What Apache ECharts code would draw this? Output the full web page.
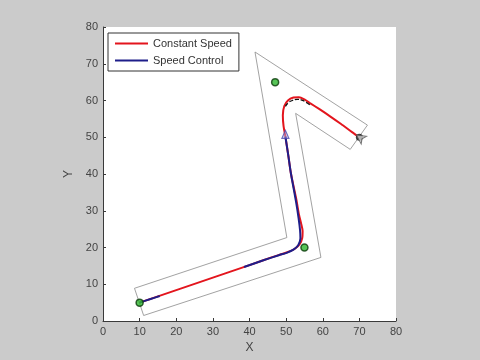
<!DOCTYPE html>
<html><head><meta charset="utf-8">
<script src="https://cdn.jsdelivr.net/npm/echarts@6/dist/echarts.min.js"></script>
<style>html,body{margin:0;padding:0;background:#cbcbcb}#c{width:480px;height:360px}</style>
</head><body><div id="c"></div>
<script>
// Corridor outline (closed polygon)
const corridor = [[8.6,8.9],[50.2,22.7],[41.5,73.2],[72.2,53.3],[67.5,46.7],[52.6,56.5],[59.5,17.3],[11.1,1.5],[8.6,8.9]];
// Constant speed trajectory (red)
const constantSpeed = [[10,5],[20,8.4],[30,11.8],[40,15.2],[46,17.3],[50.3,18.7],[52.3,19.6],[53.7,20.9],[54.4,22.6],[54.5,24.5],[54.1,26.5],[53.5,29],[52.8,33],[51.3,40.2],[50.6,45],[49.8,50.2],[49.3,53],[49.1,56],[49.5,58.5],[50.5,60],[52,60.8],[53.5,60.9],[55,60.3],[56.5,59.3],[59,57.7],[62,55.7],[65,53.6],[68,51.4],[70,50]];
// Speed control trajectory (blue), gap where red shows on top
const speedControl = [[10,5],[13,6],[15.5,6.8],null,[38.5,14.7],[44,16.6],[48,17.9],[50.3,18.6],[52,19.4],[53.3,20.6],[53.9,22.5],[53.8,24.7],[53.4,28],[52.7,32.5],[51.3,40.2],[50.6,45],[49.8,50.2]];
// Reference (dashed black) arc near the upper turn
const referenceArc = [[49.8,58.4],[50.6,59.4],[51.7,60],[53,60.3],[54.3,60.1],[55.5,59.5],[56.5,58.8]];
// Waypoints (green)
const waypoints = [[10,5],[55,20],[47,65]];
// Goal point (black)
const goal = [[70,50]];
// Vehicle marker (triangle) at end of blue trajectory
const vehicle = [[49.8,50.8]];
// Axis ticks
const xTicks = [0,10,20,30,40,50,60,70,80];
const yTicks = [0,10,20,30,40,50,60,70,80];

const chart = echarts.init(document.getElementById('c'));
const axisCommon = {
  min: 0, max: 80, interval: 10,
  axisLine: {show: true, lineStyle: {color: '#3a3a3a', width: 1}},
  axisTick: {show: true, inside: true, length: 3, lineStyle: {color: '#3a3a3a'}},
  splitLine: {show: false},
  axisLabel: {color: '#444444', fontSize: 11, fontFamily: 'Liberation Sans, Arial, sans-serif'},
  nameTextStyle: {color: '#444444', fontSize: 12, fontFamily: 'Liberation Sans, Arial, sans-serif'},
  nameLocation: 'middle'
};
chart.setOption({
  animation: false,
  backgroundColor: '#cbcbcb',
  grid: {left: 103, right: 84, top: 27, bottom: 39, show: true, backgroundColor: '#ffffff', borderWidth: 0},
  xAxis: Object.assign({}, axisCommon, {type: 'value', name: 'X', nameGap: 18,
    axisLabel: Object.assign({}, axisCommon.axisLabel, {margin: 5, formatter: v => xTicks.includes(v) ? String(v) : ''})}),
  yAxis: Object.assign({}, axisCommon, {type: 'value', name: 'Y', nameGap: 26, nameRotate: 90,
    axisLabel: Object.assign({}, axisCommon.axisLabel, {margin: 5, formatter: v => yTicks.includes(v) ? String(v) : ''})}),
  legend: {
    left: 108, top: 33, orient: 'vertical',
    data: [{name: 'Constant Speed'}, {name: 'Speed Control'}],
    icon: 'rect', itemWidth: 33, itemHeight: 2, itemGap: 6,
    backgroundColor: '#ffffff', borderColor: '#333333', borderWidth: 1, borderRadius: 0,
    padding: [5, 7, 5, 7],
    textStyle: {color: '#333333', fontSize: 11, fontFamily: 'Liberation Sans, Arial, sans-serif', padding: [0,0,0,0]}
  },
  series: [
    {type: 'line', name: 'corridor', data: corridor, symbol: 'none', lineStyle: {color: '#8a8a8a', width: 0.8}, z: 1, silent: true},
    {type: 'line', name: 'Constant Speed', data: constantSpeed, symbol: 'none', smooth: 0.25, lineStyle: {color: '#e3151d', width: 2}, itemStyle: {color: '#e3151d'}, z: 2},
    {type: 'line', name: 'Speed Control', data: speedControl, symbol: 'none', smooth: 0.25, connectNulls: false, lineStyle: {color: '#1e1e8a', width: 2}, itemStyle: {color: '#1e1e8a'}, z: 3},
    {type: 'line', name: 'reference', data: referenceArc, symbol: 'none', smooth: true, lineStyle: {color: '#111111', width: 1.3, type: [4, 2]}, z: 4},
    {type: 'scatter', name: 'waypoints', data: waypoints, symbol: 'circle', symbolSize: 7, itemStyle: {color: '#2db52d', borderColor: '#0b3b0b', borderWidth: 1.5}, z: 5},
    {type: 'scatter', name: 'goal', data: goal, symbol: 'circle', symbolSize: 7, itemStyle: {color: '#111111'}, z: 5},
    {type: 'scatter', name: 'goalArrow', data: [[69.2,50.6]], symbol: 'arrow', symbolSize: [7, 9], symbolRotate: 55, itemStyle: {color: '#cfcfcf', borderColor: '#555555', borderWidth: 1}, z: 6},
    {type: 'scatter', name: 'vehicle', data: vehicle, symbol: 'triangle', symbolSize: [7, 8], itemStyle: {color: 'rgba(180,180,230,0.6)', borderColor: '#4a4ab0', borderWidth: 1.2}, z: 6}
  ]
});
</script></body></html>
